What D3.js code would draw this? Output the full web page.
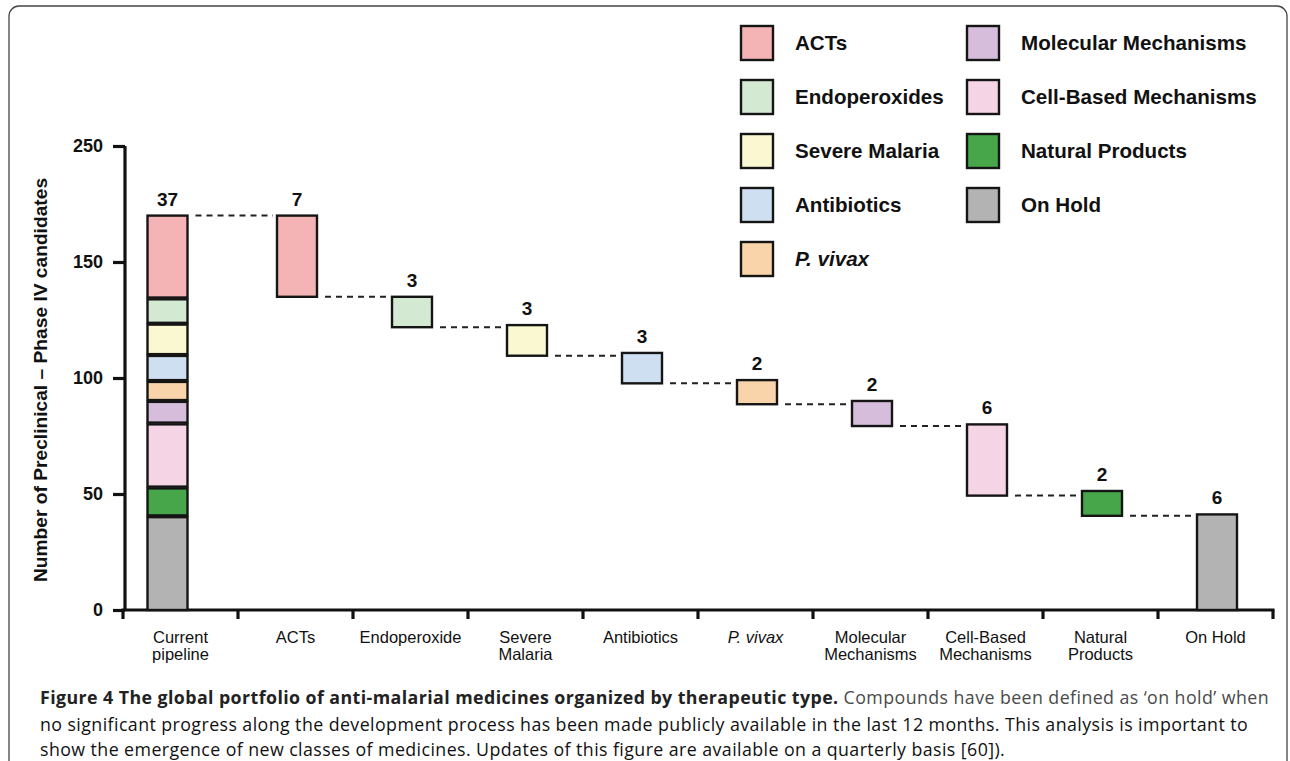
<!DOCTYPE html>
<html>
<head>
<meta charset="utf-8">
<script src="https://cdn.jsdelivr.net/npm/d3@7"></script>
<style>
body{margin:0;background:#fff}
svg text{font-family:"Liberation Sans",Arial,Helvetica,sans-serif;fill:#111}
.caption text{font-family:"Open Sans","Noto Sans",sans-serif}
</style>
</head>
<body>
<div id="chart"></div>
<script>
const width = 1290
const height = 761

// categories on the x axis
const categories = ["Current pipeline","ACTs","Endoperoxide","Severe Malaria","Antibiotics","P. vivax","Molecular Mechanisms","Cell-Based Mechanisms","Natural Products","On Hold"]
const categoryLines = [["Current","pipeline"],["ACTs"],["Endoperoxide"],["Severe","Malaria"],["Antibiotics"],["P. vivax"],["Molecular","Mechanisms"],["Cell-Based","Mechanisms"],["Natural","Products"],["On Hold"]]
// therapeutic classes (legend + stacked column, top to bottom)
const classes = ["ACTs","Endoperoxides","Severe Malaria","Antibiotics","P. vivax","Molecular Mechanisms","Cell-Based Mechanisms","Natural Products","On Hold"]
const classColors = ["#f4b4b6","#d3e9d1","#f9f8d0","#cfdff2","#f9d4aa","#d6bddb","#f4d4e5","#47a54a","#b3b3b3"]
// numbers written above the bars
const counts = [37,7,3,3,3,2,2,6,2,6]
// heights of the stacked segments in the first column (axis units, top to bottom)
const pipelineSegments = [35.7,10.9,13.5,11.2,8.6,9.7,27.6,12.4,40.4]
// floating bars of the waterfall (axis units)
const stepTop    = [170,135,122.8,110.8,99.1,90.1,80,51.3,41.2]
const stepBottom = [135,121.9,109.6,97.7,88.7,79.3,49.3,40.6,0]
// y axis ticks, labels as printed in the figure
const yTicks = [0,50,100,150,200]
const yTickLabels = ["0","50","100","150","250"]

const svg = d3.select("div#chart").append("svg").attr("width",width).attr("height",height)

// frame
svg.append("rect").attr("x",9).attr("y",6).attr("width",1278).attr("height",775)
    .attr("rx",10).attr("fill","none").attr("stroke","#444").attr("stroke-width",1.3)

const x = d3.scaleBand().domain(categories).range([123,1273])
const y = d3.scaleLinear().domain([0,200]).range([610,146])
const barW = 40
const barX = (i) => x(categories[i]) + x.bandwidth()/2 + (i === 0 ? -13 : 1.5) - barW/2

// y axis
const yAxisGroup = svg.append("g").attr("class","yAxisGroup").attr("transform","translate(125,0)")
yAxisGroup.call(d3.axisLeft(y).tickValues(yTicks).tickSize(12).tickSizeOuter(0).tickPadding(10)
    .tickFormat((d,i) => yTickLabels[i]))
yAxisGroup.selectAll("path,line").attr("stroke","#111").attr("stroke-width",3.2)
yAxisGroup.select("path").attr("d","M0,610V146")
yAxisGroup.selectAll("text").attr("font-size",18).attr("font-weight","bold").attr("fill","#111")
    .attr("font-family","Liberation Sans, Arial, sans-serif")

// x axis
const xAxisGroup = svg.append("g").attr("class","xAxisGroup").attr("transform","translate(0,610)")
xAxisGroup.append("line").attr("x1",121.5).attr("x2",1274.5).attr("stroke","#111").attr("stroke-width",3.2)
const bounds = categories.map(c => x(c)).concat([x(categories[categories.length-1]) + x.bandwidth()])
xAxisGroup.selectAll("line.tick").data(bounds).enter().append("line").attr("class","tick")
    .attr("x1",d => d).attr("x2",d => d).attr("y1",0).attr("y2",9)
    .attr("stroke","#111").attr("stroke-width",3.2)
const catLabels = xAxisGroup.selectAll("text.cat").data(categoryLines).enter().append("text").attr("class","cat")
    .attr("text-anchor","middle").attr("font-size",16.5).attr("fill","#222")
    .attr("font-style",(d,i) => categories[i] === "P. vivax" ? "italic" : "normal")
catLabels.selectAll("tspan").data((d,i) => d.map(t => ({t,i}))).enter().append("tspan")
    .attr("x",d => x(categories[d.i]) + x.bandwidth()/2)
    .attr("y",(d,j) => 33 + j*16.5)
    .text(d => d.t)

// y title
svg.append("text").attr("transform","translate(47,380) rotate(-90)").attr("text-anchor","middle")
    .attr("font-size",19.2).attr("font-weight","bold").text("Number of Preclinical \u2013 Phase IV candidates")

const bars = svg.append("g").attr("class","bars")

// stacked pipeline column
const total = d3.sum(pipelineSegments)
const cum = []
let acc = total
pipelineSegments.forEach(v => { cum.push([acc, acc - v]); acc -= v })
bars.selectAll("rect.seg").data(cum).enter().append("rect").attr("class","seg")
    .attr("x",barX(0)).attr("width",barW)
    .attr("y",(d,i) => y(d[0]) + (i === 0 ? 0 : 0.9))
    .attr("height",(d,i) => y(d[1]) - y(d[0]) - (i === 0 ? 0.9 : 1.8) + (i === cum.length-1 ? 0.9 : 0))
    .attr("fill",(d,i) => classColors[i])
    .attr("stroke","#151515").attr("stroke-width",2.4)

// waterfall bars
const steps = classes.map((c,i) => ({c, i, top: stepTop[i], bottom: stepBottom[i]}))
bars.selectAll("rect.step").data(steps).enter().append("rect").attr("class","step")
    .attr("x",d => barX(d.i + 1)).attr("width",barW)
    .attr("y",d => y(d.top)).attr("height",d => y(d.bottom) - y(d.top))
    .attr("fill",d => classColors[d.i])
    .attr("stroke","#151515").attr("stroke-width",2.4)

// dashed connectors
const links = steps.map(d => ({from: d.i, level: d.i === 0 ? total : stepBottom[d.i - 1], to: d.i + 1}))
bars.selectAll("line.link").data(links).enter().append("line").attr("class","link")
    .attr("x1",d => barX(d.from) + barW + 8).attr("x2",d => barX(d.to) - 4)
    .attr("y1",d => y(d.level)).attr("y2",d => y(d.level))
    .attr("stroke","#222").attr("stroke-width",2).attr("stroke-dasharray","6,5")

// count labels
const tops = [total].concat(stepTop)
bars.selectAll("text.count").data(counts).enter().append("text").attr("class","count")
    .attr("x",(d,i) => barX(i) + barW/2).attr("y",(d,i) => y(tops[i]) - 10)
    .attr("text-anchor","middle").attr("font-size",19).attr("font-weight","bold").text(d => d)

// legend
const legend = svg.append("g").attr("class","legend")
const items = legend.selectAll("g").data(classes).enter().append("g")
    .attr("transform",(d,i) => `translate(${i < 5 ? 741 : 967},${26 + (i < 5 ? i : i - 5)*54})`)
items.append("rect").attr("width",32).attr("height",34)
    .attr("fill",(d,i) => classColors[i]).attr("stroke","#151515").attr("stroke-width",2.4)
items.append("text").attr("x",54).attr("y",24).attr("font-size",20.6).attr("font-weight","bold")
    .attr("font-style",d => d === "P. vivax" ? "italic" : "normal").text(d => d)

// caption
const caption = svg.append("g").attr("class","caption")
const capSize = 17.8
const capSpacing = 0.42
const l1 = caption.append("text").attr("x",40).attr("y",704).attr("font-size",capSize)
    .attr("letter-spacing",capSpacing).attr("fill","#4a4a4a")
l1.append("tspan").attr("font-weight","bold").attr("fill","#222").text("Figure 4 The global portfolio of anti-malarial medicines organized by therapeutic type.")
l1.append("tspan").attr("fill","#4a4a4a").text(" Compounds have been defined as \u2018on hold\u2019 when")
caption.append("text").attr("x",40).attr("y",731).attr("font-size",capSize)
    .attr("letter-spacing",capSpacing).attr("fill","#4a4a4a")
    .text("no significant progress along the development process has been made publicly available in the last 12 months. This analysis is important to")
caption.append("text").attr("x",40).attr("y",756).attr("font-size",capSize)
    .attr("letter-spacing",capSpacing).attr("fill","#4a4a4a")
    .text("show the emergence of new classes of medicines. Updates of this figure are available on a quarterly basis [60]).")
</script>
</body>
</html>
